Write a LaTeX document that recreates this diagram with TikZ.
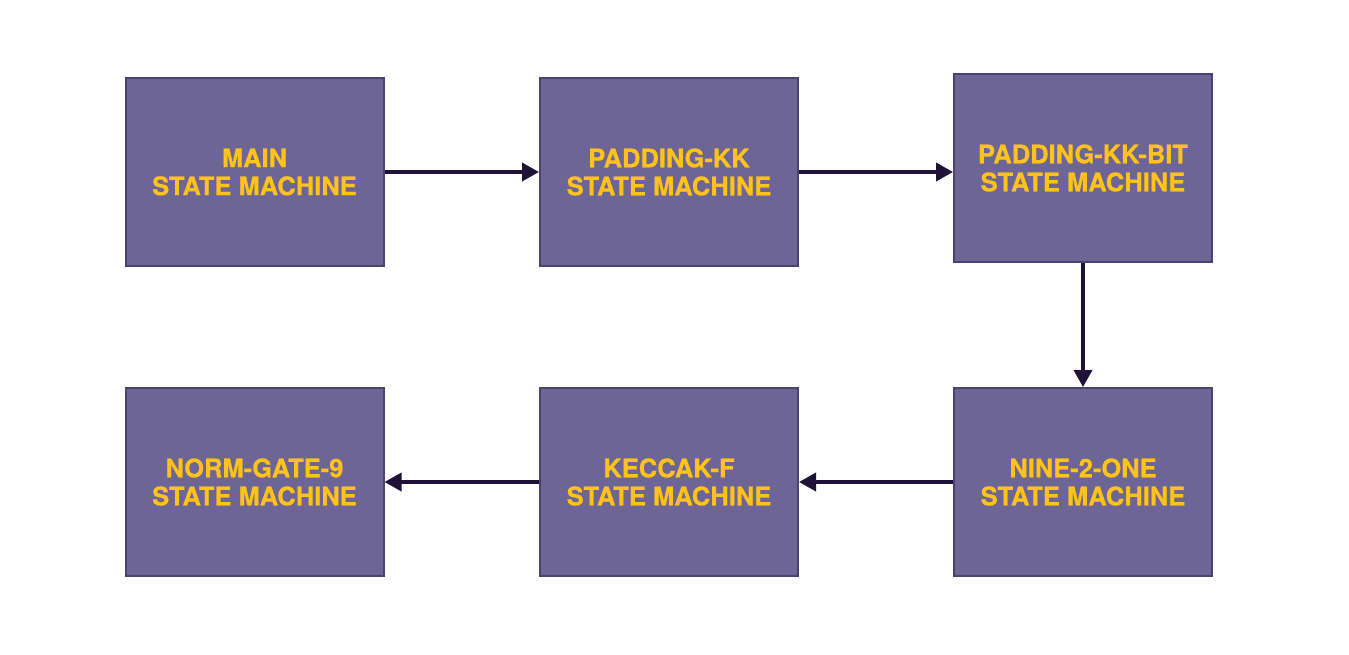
\documentclass[tikz,border=0pt]{standalone}
\usepackage{fontspec}
\setmainfont{TeX Gyre Heros}[BoldFeatures={FakeBold=0.6}]
\usetikzlibrary{arrows.meta}
\definecolor{boxfill}{HTML}{6E6597}
\definecolor{boxline}{HTML}{4B4270}
\definecolor{txt}{HTML}{FFC21A}
\definecolor{arr}{HTML}{1E1236}
\tikzset{
  smbox/.style={draw=boxline, line width=2pt, fill=boxfill, minimum width=258pt, minimum height=188pt, inner sep=0pt, align=center, text=txt, font=\fontsize{25.5}{28}\selectfont\bfseries},
  conn/.style={draw=arr, line width=3.6pt, -{Triangle[length=17pt,width=18pt]}}
}
\begin{document}
\begin{tikzpicture}[x=1pt,y=-1pt]
\useasboundingbox (0,0) rectangle (1349,654);
\node[smbox] (b1) at (254.5,172) {MAIN\\STATE MACHINE};
\node[smbox] (b2) at (669,172) {PADDING-KK\\STATE MACHINE};
\node[smbox] (b3) at (1083,168) {PADDING-KK-BIT\\STATE MACHINE};
\node[smbox] (b4) at (1083,482) {NINE-2-ONE\\STATE MACHINE};
\node[smbox] (b5) at (669,482) {KECCAK-F\\STATE MACHINE};
\node[smbox] (b6) at (254.5,482) {NORM-GATE-9\\STATE MACHINE};
\draw[conn] (b1.east) -- (b2.west);
\draw[conn] (b2.east) -- (b2.east -| b3.west);
\draw[conn] (b3.south) -- (b4.north);
\draw[conn] (b4.west) -- (b5.east);
\draw[conn] (b5.west) -- (b6.east);
\end{tikzpicture}
\end{document}
